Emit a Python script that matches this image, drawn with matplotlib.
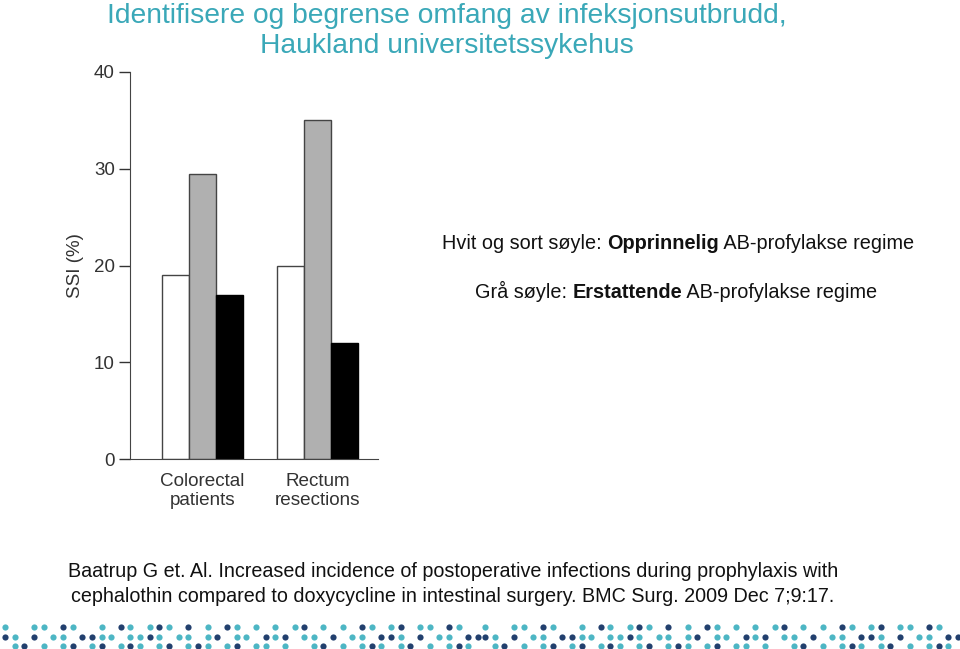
import matplotlib
matplotlib.use("Agg")
import matplotlib.pyplot as plt
import numpy as np

# data
categories = ["Colorectal\npatients", "Rectum\nresections"]
ssi_white = [19, 20]
ssi_grey = [29.5, 35]
ssi_black = [17, 12]
yticks = [0, 10, 20, 30, 40]

title = "Identifisere og begrense omfang av infeksjonsutbrudd,\nHaukland universitetssykehus"
citation = ("Baatrup G et. Al. Increased incidence of postoperative infections during prophylaxis with\n"
            "cephalothin compared to doxycycline in intestinal surgery. BMC Surg. 2009 Dec 7;9:17.")

# decorative dot band (t = teal, n = navy), one 480 px tile
dot_rows = [
    "t..tt.nt..t.nt.tnt.n.t.nt.t.t.tn.t.t.nt.tn.tt.nt..",
    "nt.n.tt.nntt.ttnt.tt.tn.tt.ntn.tt.n.tt.nnt.n.tt.nn",
    ".tn.t.tn.tn.tnt.tn.tnt.tn.tt.t..tn.t.tnt.tn.t.tnt.",
]

W, H = 960, 649
plt.rcParams['font.family'] = ['Liberation Sans', 'DejaVu Sans']
fig = plt.figure(figsize=(W / 100, H / 100), dpi=100)


def px(x, y):
    return x / W, 1 - y / H


# main bar chart
ax = fig.add_axes([130 / W, (H - 459) / H, 248 / W, (459 - 72) / H])
x = np.arange(len(categories))
bw = 0.235
ax.bar(x - bw, ssi_white, bw, color="white", edgecolor="#444444", linewidth=1.0)
ax.bar(x, ssi_grey, bw, color="#b0b0b0", edgecolor="#444444", linewidth=1.0)
ax.bar(x + bw, ssi_black, bw, color="black", edgecolor="black", linewidth=1.0)
ax.set_xlim(-0.63, 1.526)
ax.set_ylim(0, 40)
ax.set_yticks(yticks)
ax.set_xticks(x)
ax.set_xticklabels(categories, fontsize=13.6, color="#333333", linespacing=1.15)
ax.tick_params(axis="x", length=0, pad=10)
ax.tick_params(axis="y", length=8, width=1, labelsize=13.5, colors="#333333", pad=3)
for s in ["top", "right"]:
    ax.spines[s].set_visible(False)
for s in ["left", "bottom"]:
    ax.spines[s].set_color("#444444")
ax.set_ylabel("SSI (%)", fontsize=13.5, color="#333333", labelpad=7)

# title
fig.text(*px(447, 31), title, ha="center", va="center", fontsize=20.3,
         color="#3aa8b8", linespacing=1.2)

# legend-like annotations with bold parts
renderer = fig.canvas.get_renderer()


def mixed_line(x0, y0, parts, size=14.3):
    xc = x0
    for txt, weight in parts:
        t = fig.text(*px(xc, y0), txt, ha="left", va="baseline", fontsize=size,
                     fontweight=weight, color="#111111")
        bb = t.get_window_extent(renderer=renderer)
        xc += bb.width


mixed_line(442, 249, [("Hvit og sort søyle: ", "normal"), ("Opprinnelig", "bold"),
                      (" AB-profylakse regime", "normal")])
mixed_line(475, 298, [("Grå søyle: ", "normal"), ("Erstattende", "bold"),
                      (" AB-profylakse regime", "normal")])

# citation
fig.text(*px(453, 584), citation, ha="center", va="center", fontsize=14.2,
         color="#111111", linespacing=1.35)

# dot band
dax = fig.add_axes([0, 0, 1, 1])
dax.set_xlim(0, W)
dax.set_ylim(H, 0)
dax.axis("off")
colors = {"t": "#4db6c4", "n": "#22406e"}
row_y = [627, 637, 646]
for tile in range(2):
    for ry, row in zip(row_y, dot_rows):
        for k, ch in enumerate(row):
            if ch in colors:
                dax.scatter(tile * 480 + 5 + 9.65 * k, ry, s=20, color=colors[ch],
                            linewidths=0)

fig.savefig("out.png", dpi=100)
